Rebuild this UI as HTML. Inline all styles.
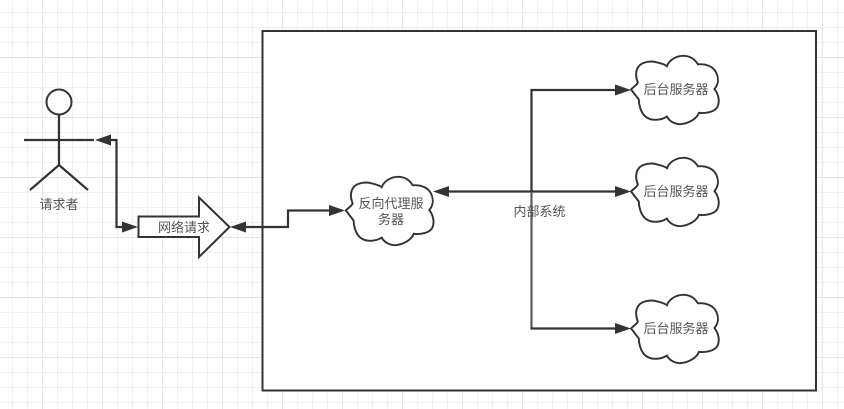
<!DOCTYPE html>
<html><head><meta charset="utf-8"><style>
html,body{margin:0;padding:0;background:#fff;width:844px;height:409px;overflow:hidden}
svg{display:block}
text{font-family:"Liberation Sans","Noto Sans CJK SC",sans-serif;font-size:13px;fill:#555;text-anchor:middle}
.c{fill:#fff;stroke:#333;stroke-width:2}
.l{fill:none;stroke:#333;stroke-width:2.2}
.a{fill:#333;stroke:none}
</style></head><body>
<svg width="844" height="409" viewBox="0 0 844 409" xmlns="http://www.w3.org/2000/svg">
<defs>
<pattern id="g1" width="15" height="15" patternUnits="userSpaceOnUse" x="12" y="12"><path d="M0.5 0V15M0 0.5H15" stroke="#f0f0f0" stroke-width="1" fill="none"/></pattern>
<pattern id="g2" width="60" height="60" patternUnits="userSpaceOnUse" x="42" y="57"><path d="M0.5 0V60M0 0.5H60" stroke="#e4e4e4" stroke-width="1" fill="none"/></pattern>
<path id="cl" d="M6 39.500C9 36 12 35 13 32C11 27 10 20 14 15C18 10 28 9 33 11C37 12 41 13 43 15C45 9 52 4 60 4C67 4 72 8 75 13C82 12 91 15 94 22C97 29 96 34 92 39C96 44 98 52 95 58C92 63 83 65 76 64C74 70 66 75 57 76C50 76 45 72 43 68C37 72 27 73 21 68C16 64 14 55 14 50C11 46 8 42 6 39.500Z"/>
</defs>
<rect width="844" height="409" fill="#fff"/>
<rect width="844" height="409" fill="url(#g1)"/>
<rect width="844" height="409" fill="url(#g2)"/>

<rect x="262.500" y="31" width="553.500" height="359.500" fill="#fff" stroke="#333" stroke-width="2"/>

<!-- actor -->
<circle cx="59" cy="102" r="12.500" fill="#fff" stroke="#333" stroke-width="2"/>
<path class="l" d="M59 115V165M24 140H94M59 165L30 190M59 165L88 190"/>
<text x="59" y="209">请求者</text>

<!-- actor connector -->
<path class="l" d="M108 140H116.500V227H125"/>
<path class="a" d="M95 140L111 134.500V145.500Z"/>
<path class="a" d="M138 227L122 221.500V232.500Z"/>

<!-- block arrow -->
<path d="M138.500 216.500H199V197.500L229.500 227L199 257V237H138.500Z" fill="#fff" stroke="#333" stroke-width="2"/>
<text x="184" y="232">网络请求</text>

<!-- arrow to proxy -->
<path class="l" d="M243 227H288V210.500H332"/>
<path class="a" d="M230 227L246 221.500V232.500Z"/>
<path class="a" d="M345 210.500L329 205V216Z"/>

<!-- internal connectors -->
<path class="l" d="M445 191.500H620"/>
<path class="l" d="M618 90H531.500V192"/>
<path d="M531.500 192V329" fill="none" stroke="#5c5c5c" stroke-width="2.200"/>
<path class="l" d="M530.500 328.500H618"/>
<path class="a" d="M433 191.500L449 186V197Z"/>
<path class="a" d="M631 90L615 84.500V95.500Z"/>
<path class="a" d="M631 191.500L615 186V197Z"/>
<path class="a" d="M631 328.500L615 323V334Z"/>
<text x="539.500" y="216">内部系统</text>

<!-- clouds -->
<use href="#cl" class="c" transform="translate(340 173) scale(0.97 0.95)"/>
<use href="#cl" class="c" transform="translate(625.200 52) scale(0.97 0.95)"/>
<use href="#cl" class="c" transform="translate(625.200 154) scale(0.97 0.95)"/>
<use href="#cl" class="c" transform="translate(625.200 291) scale(0.97 0.95)"/>
<text x="391" y="208">反向代理服</text>
<text x="391" y="224">务器</text>
<text x="676" y="94">后台服务器</text>
<text x="676" y="196">后台服务器</text>
<text x="676" y="333">后台服务器</text>
</svg>
</body></html>
